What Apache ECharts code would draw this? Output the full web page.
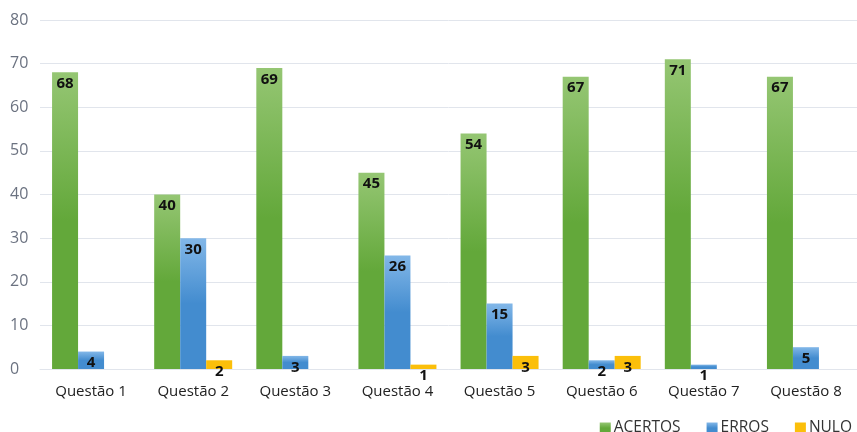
<!DOCTYPE html>
<html><head><meta charset="utf-8">
<script src="https://cdn.jsdelivr.net/npm/echarts@6/dist/echarts.min.js"></script>
<style>html,body{margin:0;padding:0;background:#fff}#c{width:857px;height:432px}</style>
</head><body><div id="c"></div>
<script>
const categories = ['Questão 1','Questão 2','Questão 3','Questão 4','Questão 5','Questão 6','Questão 7','Questão 8'];
const acertos = [68,40,69,45,54,67,71,67];
const erros = [4,30,3,26,15,2,1,5];
const nulo = [0,2,0,1,3,3,0,0];
const yTicks = [0,10,20,30,40,50,60,70,80];

function grad(top, bottom){
  return new echarts.graphic.LinearGradient(0,0,0,1,[{offset:0,color:top},{offset:0.5,color:bottom},{offset:1,color:bottom}]);
}
const label = {
  show:true, position:'insideTop', distance:4, color:'#111', fontWeight:'bold', fontSize:15,
  fontFamily:'Open Sans',
  formatter: p => p.value === 0 ? '' : String(p.value)
};
const chart = echarts.init(document.getElementById('c'));
chart.setOption({
  animation:false,
  textStyle:{fontFamily:'Open Sans'},
  grid:{left:40,right:0,top:20,bottom:63,containLabel:false},
  legend:{
    right:0, top:415, itemWidth:11, itemHeight:11, itemGap:26,
    icon:'rect',
    textStyle:{fontSize:15.5,color:'#333',fontFamily:'Open Sans',padding:[0,0,0,-2]},
    data:['ACERTOS','ERROS','NULO']
  },
  xAxis:{
    type:'category', data:categories,
    axisLine:{show:true,lineStyle:{color:'#e1e5ec'}},
    axisTick:{show:false},
    axisLabel:{color:'#222',fontSize:15,margin:15,fontFamily:'Open Sans'}
  },
  yAxis:{
    type:'value', min:yTicks[0], max:yTicks[yTicks.length-1], interval:10,
    axisLine:{show:false}, axisTick:{show:false},
    splitLine:{lineStyle:{color:'#e1e5ec',width:1}},
    axisLabel:{color:'#6b7280',fontSize:16,margin:30,align:'left',fontFamily:'Open Sans'}
  },
  series:[
    {name:'ACERTOS',type:'bar',data:acertos,barWidth:26,barGap:'0%',
     itemStyle:{color:grad('#95c673','#63a83a')},label:label},
    {name:'ERROS',type:'bar',data:erros,barWidth:26,barGap:'0%',
     itemStyle:{color:grad('#82b7e8','#438ccf')},label:label},
    {name:'NULO',type:'bar',data:nulo,barWidth:26,barGap:'0%',
     itemStyle:{color:'#fbbf0a'},label:label}
  ]
});
</script></body></html>
